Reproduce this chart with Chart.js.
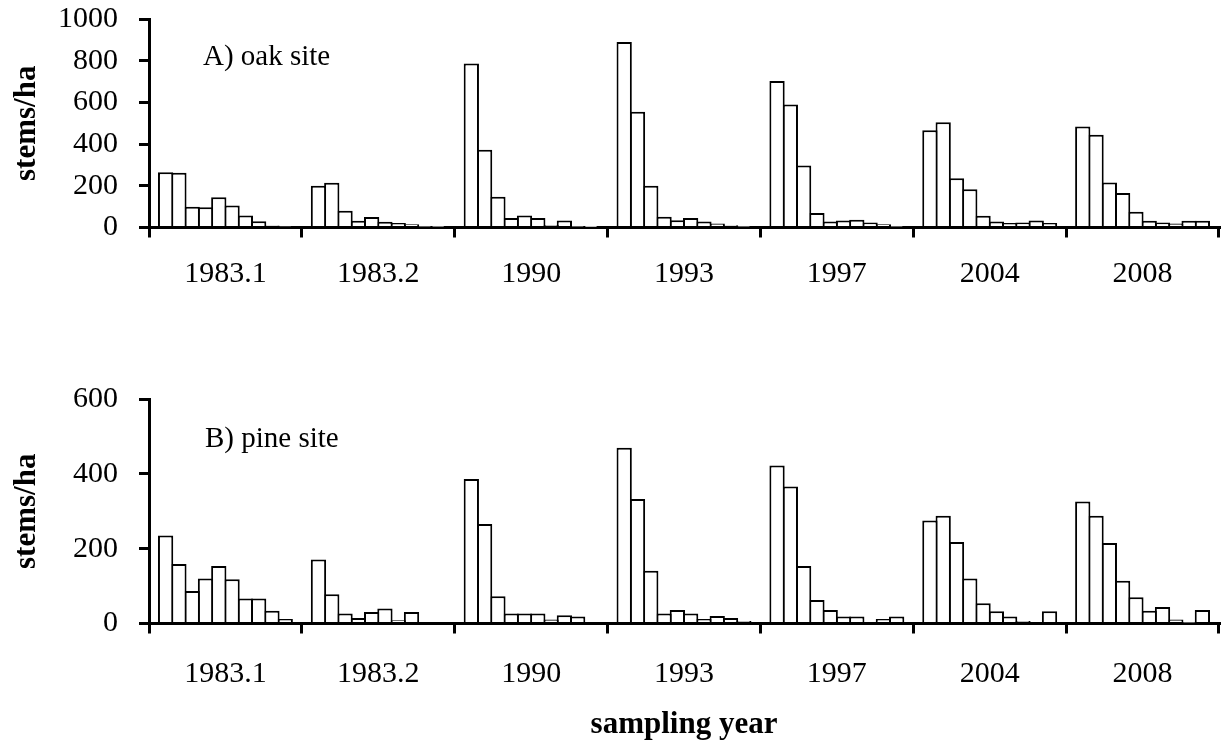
<!DOCTYPE html>
<html>
<head>
<meta charset="utf-8">
<title>stems/ha by sampling year</title>
<script src="https://cdn.jsdelivr.net/npm/chart.js"></script>
<style>
  html, body { margin: 0; padding: 0; background: #fff; }
  canvas { display: block; }
</style>
</head>
<body>
<canvas id="oakChart" width="1231" height="320"></canvas>
<canvas id="pineChart" width="1231" height="428"></canvas>
<script>
// sampling years on the x axis
var years = ["1983.1", "1983.2", "1990", "1993", "1997", "2004", "2008"];
// ten size classes, plotted left to right inside each year
var sizeClasses = ["1", "2", "3", "4", "5", "6", "7", "8", "9", "10"];

// stems/ha per size class, one row per sampling year
var oakStems = [
  [265, 262, 100, 97, 145, 105, 58, 30, 10, 4],
  [200, 215, 80, 32, 50, 28, 22, 16, 3, 2],
  [787, 373, 148, 45, 57, 46, 12, 33, 3, 1],
  [890, 555, 200, 51, 35, 45, 29, 19, 11, 3],
  [703, 590, 297, 69, 29, 34, 37, 24, 16, 3],
  [466, 505, 236, 183, 56, 29, 22, 24, 34, 21],
  [485, 445, 216, 165, 75, 32, 24, 19, 32, 32]
];
var pineStems = [
  [235, 159, 87, 120, 154, 118, 67, 67, 34, 12],
  [171, 78, 27, 15, 31, 40, 9, 31, 4, 4],
  [386, 266, 73, 27, 27, 27, 11, 22, 19, 4],
  [470, 333, 141, 27, 36, 27, 12, 20, 15, 7],
  [422, 366, 154, 63, 36, 19, 19, 4, 12, 19],
  [275, 288, 218, 120, 54, 33, 19, 7, 4, 33],
  [326, 288, 215, 114, 70, 34, 44, 11, 2, 36]
];

var oakTicks = [0, 200, 400, 600, 800, 1000];
var pineTicks = [0, 200, 400, 600];

Chart.defaults.font.family = '"Liberation Serif", "Times New Roman", serif';
Chart.defaults.color = "#000";

// writes the site name inside the plot area
var panelLabel = {
  id: "panelLabel",
  afterDraw: function (chart, args, opts) {
    var ctx = chart.ctx;
    ctx.save();
    ctx.font = '29px "Liberation Serif", "Times New Roman", serif';
    ctx.fillStyle = "#000";
    ctx.textAlign = "left";
    ctx.textBaseline = "alphabetic";
    ctx.fillText(opts.text, opts.x, opts.y);
    ctx.restore();
  }
};

// one dataset per size class, taken column-wise from the year rows
function buildDatasets(rows) {
  return sizeClasses.map(function (cls, i) {
    return {
      label: cls,
      data: rows.map(function (r) { return r[i]; }),
      backgroundColor: "#fff",
      borderColor: "#000",
      borderWidth: 2,
      borderSkipped: "start",
      // 10 bars + 150% gap, bars widened so neighbours share one edge
      categoryPercentage: 10 / 11.5,
      barPercentage: 1.15
    };
  });
}

function makeChart(id, rows, tickValues, opt) {
  var canvas = document.getElementById(id);
  var maxVal = tickValues[tickValues.length - 1];
  return new Chart(canvas, {
    type: "bar",
    data: { labels: years, datasets: buildDatasets(rows) },
    plugins: [panelLabel],
    options: {
      responsive: false,
      animation: false,
      layout: { padding: { top: opt.top, right: 12, left: 0, bottom: 0 } },
      plugins: {
        legend: { display: false },
        tooltip: { enabled: false },
        panelLabel: { text: opt.label, x: opt.labelX, y: opt.labelY }
      },
      scales: {
        x: {
          type: "category",
          offset: true,
          grid: {
            offset: true,
            drawOnChartArea: false,
            drawTicks: true,
            tickLength: 10,
            color: "#000",
            lineWidth: 3
          },
          border: { display: true, color: "#000", width: 3 },
          ticks: {
            font: { size: 30 },
            padding: opt.xPad,
            maxRotation: 0,
            autoSkip: false
          },
          title: {
            display: opt.xTitle !== "",
            text: opt.xTitle,
            font: { size: 31, weight: "bold" },
            padding: { top: 0, bottom: 4 }
          },
          afterFit: function (scale) {
            scale.height = canvas.height - opt.bottom;
          }
        },
        y: {
          min: 0,
          max: maxVal,
          afterBuildTicks: function (scale) {
            scale.ticks = tickValues.map(function (v) { return { value: v }; });
          },
          grid: {
            drawOnChartArea: false,
            drawTicks: true,
            tickLength: 10,
            color: "#000",
            lineWidth: 3
          },
          border: { display: true, color: "#000", width: 3 },
          ticks: {
            font: { size: 30 },
            padding: 21,
            autoSkip: false,
            callback: function (v) { return String(v); }
          },
          title: {
            display: true,
            text: "stems/ha",
            font: { size: 31, weight: "bold" },
            padding: { top: 8, bottom: 0 }
          },
          afterFit: function (scale) {
            scale.width = 149;
            // let layout.padding alone decide where the plot area starts
            scale.paddingTop = 0;
            scale.paddingBottom = 0;
          }
        }
      }
    }
  });
}

makeChart("oakChart", oakStems, oakTicks, {
  top: 19, bottom: 227.5, xPad: 19, xTitle: "",
  label: "A) oak site", labelX: 203, labelY: 65
});
makeChart("pineChart", pineStems, pineTicks, {
  top: 79, bottom: 303.5, xPad: 23, xTitle: "sampling year",
  label: "B) pine site", labelX: 205, labelY: 127
});
</script>
</body>
</html>
